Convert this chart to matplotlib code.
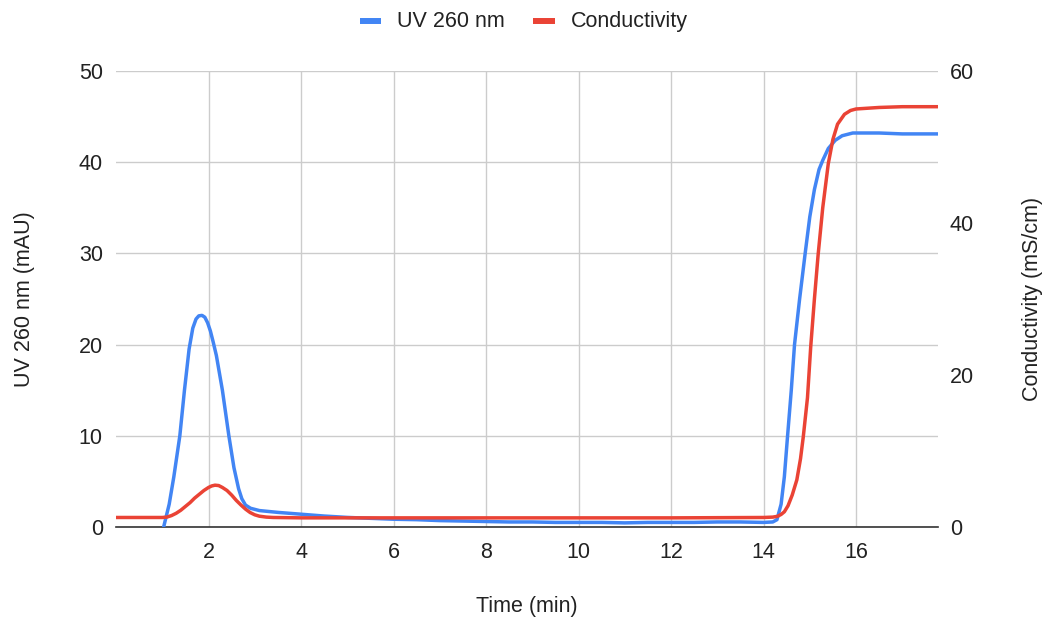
import matplotlib.pyplot as plt

# values
uv_t = [1.03, 1.15, 1.25, 1.38, 1.48, 1.58, 1.66, 1.73, 1.79, 1.86, 1.92, 1.98, 2.04, 2.1, 2.17,
        2.3, 2.44, 2.55, 2.65, 2.72, 2.8, 2.91, 3.1, 3.5, 4.0, 4.5, 5.0, 5.5, 6.0, 6.5, 7.0, 7.5,
        8.0, 8.5, 9.0, 9.5, 10.0, 10.5, 11.0, 11.5, 12.0, 12.5, 13.0, 13.5, 14.0, 14.2, 14.29,
        14.38, 14.45, 14.52, 14.6, 14.67, 14.78, 14.9, 15.0, 15.1, 15.2, 15.28, 15.4, 15.55, 15.7,
        15.93, 16.5, 17.0, 17.8]
uv = [0, 2.5, 5.5, 10, 15, 19.5, 21.8, 22.8, 23.15, 23.2, 23.0, 22.4, 21.5, 20.3, 18.8,
      15, 10, 6.5, 4.2, 3.1, 2.4, 2.05, 1.8, 1.6, 1.4, 1.2, 1.05, 0.95, 0.85, 0.8, 0.7, 0.65,
      0.6, 0.55, 0.55, 0.5, 0.5, 0.5, 0.45, 0.5, 0.5, 0.5, 0.55, 0.55, 0.5, 0.55, 0.8,
      2.5, 5.5, 10, 15, 20, 25, 30, 34, 37, 39.2, 40.2, 41.5, 42.4, 42.9,
      43.2, 43.2, 43.1, 43.1]

cond_t = [0, 0.5, 1.0, 1.1, 1.2, 1.3, 1.4, 1.5, 1.6, 1.7, 1.8, 1.9, 2.0, 2.07, 2.14, 2.22, 2.3,
          2.4, 2.5, 2.6, 2.7, 2.8, 2.9, 3.0, 3.1, 3.25, 3.4, 4.0, 6.0, 8.0, 10.0, 12.0, 14.0,
          14.2, 14.3, 14.38, 14.45, 14.53, 14.62, 14.72, 14.8, 14.86, 14.95, 15.02, 15.1, 15.18,
          15.28, 15.4, 15.5, 15.6, 15.75, 15.88, 16.0, 16.5, 17.0, 17.8]
cond = [1.25, 1.25, 1.25, 1.3, 1.5, 1.8, 2.2, 2.7, 3.2, 3.8, 4.3, 4.8, 5.2, 5.4, 5.5, 5.45, 5.2,
        4.8, 4.2, 3.5, 2.9, 2.35, 1.9, 1.6, 1.42, 1.3, 1.25, 1.2, 1.2, 1.2, 1.2, 1.2, 1.25,
        1.3, 1.4, 1.65, 2.0, 2.8, 4.2, 6.2, 9, 11.9, 17, 23.7, 30, 35.8,
        42, 47.8, 51, 53, 54.3, 54.8, 55.0, 55.2, 55.3, 55.3]

blue = '#4285F4'
red = '#EA4335'
txt = '#222222'
fs = 15.5
plt.rcParams['font.family'] = ['Liberation Sans', 'DejaVu Sans']

fig = plt.figure(figsize=(10.47, 6.21), dpi=100)
ax = fig.add_axes([0.1108, 0.1514, 0.785, 0.7343])
ax2 = ax.twinx()

l1, = ax.plot(uv_t, uv, color=blue, lw=2.5, label='UV 260 nm', zorder=3,
              solid_joinstyle='round', solid_capstyle='round')
l2, = ax2.plot(cond_t, cond, color=red, lw=2.5, label='Conductivity', zorder=3,
               solid_joinstyle='round', solid_capstyle='round')

ax.set_xlim(0, 17.77)
ax.set_ylim(0, 50)
ax2.set_ylim(0, 60)
ax.set_xticks(range(2, 17, 2))
ax.set_yticks(range(0, 51, 10))
ax2.set_yticks(range(0, 61, 20))

ax.grid(True, color='#cccccc', lw=1)
ax.set_axisbelow(True)
for a in (ax, ax2):
    for s in a.spines.values():
        s.set_visible(False)
    a.tick_params(length=0, labelsize=fs, colors=txt)
ax.spines['bottom'].set_visible(True)
ax.spines['bottom'].set_color('#333333')
ax.spines['bottom'].set_linewidth(1.2)
ax.tick_params(axis='y', pad=9.5)
ax.tick_params(axis='x', pad=11)
ax2.tick_params(axis='y', pad=8.6)

ax.set_xlabel('Time (min)', fontsize=fs, color=txt)
ax.set_ylabel('UV 260 nm (mAU)', fontsize=fs, color=txt)
ax2.set_ylabel('Conductivity (mS/cm)', fontsize=fs, color=txt, rotation=90)
ax2.yaxis.set_label_position('right')
ax.xaxis.set_label_coords(0.5, -0.1754)
ax.xaxis.label.set_verticalalignment('center')
ax.yaxis.set_label_coords(-0.1119, 0.5)
ax.yaxis.label.set_verticalalignment('center')
ax2.yaxis.set_label_coords(1.1156, 0.5)
ax2.yaxis.label.set_verticalalignment('center')

leg = fig.legend([l1, l2], ['UV 260 nm', 'Conductivity'], loc='center',
                 bbox_to_anchor=(0.5, 0.9646), ncol=2, frameon=False, fontsize=fs,
                 handlelength=1.0, handleheight=0.5, handletextpad=0.72,
                 columnspacing=1.35, labelcolor=txt)
for h in leg.legend_handles:
    h.set_linewidth(4.3)
    h.set_solid_capstyle('butt')

plt.savefig('out.png', dpi=100)
